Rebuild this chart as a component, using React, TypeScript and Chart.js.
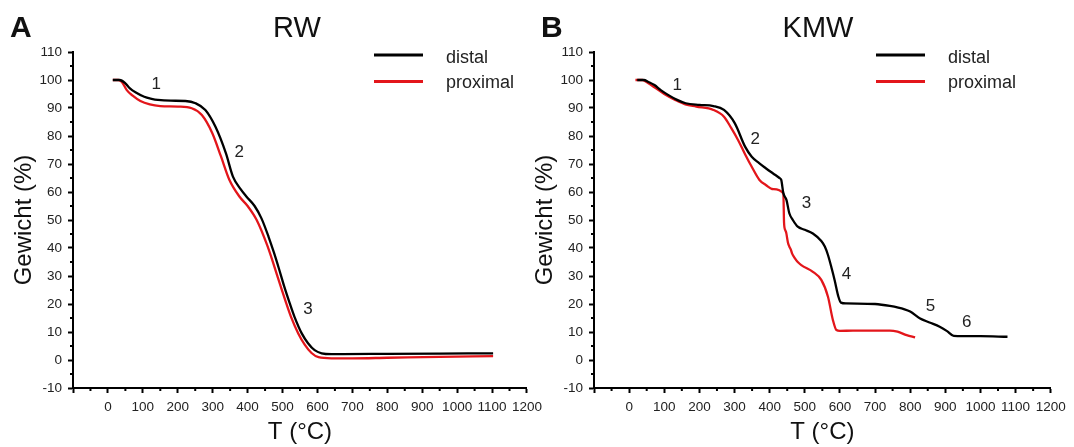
import React, { useEffect, useRef } from 'react';
import { Chart, registerables } from 'chart.js';

Chart.register(...registerables);

const FONT = "'Liberation Sans', Arial, Helvetica, sans-serif";

// Axis ticks
const X_TICKS = [-100, 0, 100, 200, 300, 400, 500, 600, 700, 800, 900, 1000, 1100, 1200];
const X_MINOR_TICKS = [-50, 50, 150, 250, 350, 450, 550, 650, 750, 850, 950, 1050, 1150];
const Y_TICKS = [-10, 0, 10, 20, 30, 40, 50, 60, 70, 80, 90, 100, 110];
const Y_MINOR_TICKS = [-5, 5, 15, 25, 35, 45, 55, 65, 75, 85, 95, 105];
const SERIES_LABELS = ['distal', 'proximal'];

// Panel A: RW
const RW_DISTAL_T = [14, 34, 50, 63, 80, 104, 125, 143, 180, 222, 251, 279, 308, 338, 358, 380, 397, 420, 440, 460, 475, 490, 505, 520, 534, 555, 573, 592, 612, 640, 672, 800, 950, 1103];
const RW_DISTAL_W = [100, 100, 98.8, 97, 95.5, 94, 93.3, 92.9, 92.6, 92.5, 91.7, 89.3, 83.3, 73.8, 65.5, 61, 58.3, 55, 50.5, 44, 38.5, 32.5, 26.2, 20.5, 15.5, 9.5, 6, 3.5, 2.4, 2.1, 2.1, 2.2, 2.3, 2.4];
const RW_PROXIMAL_T = [14, 30, 40, 54, 70, 93, 120, 150, 200, 240, 269, 299, 324, 348, 377, 400, 426, 456, 475, 495, 510, 524, 545, 564, 583, 603, 640, 700, 800, 950, 1103];
const RW_PROXIMAL_W = [100, 100, 99.3, 96.4, 94.5, 92.5, 91.3, 90.7, 90.5, 89.9, 87.5, 81, 72.6, 64.3, 58.3, 55, 50, 41, 34, 26.2, 20.5, 15.5, 9.5, 5.4, 2.5, 1.0, 0.6, 0.6, 0.8, 1.1, 1.4];
const RW_STEP_LABELS = ['1', '2', '3'];
const RW_STEP_T = [138, 376, 573];
const RW_STEP_W = [98.6, 74.3, 18.2];

// Panel B: KMW
const KMW_DISTAL_T = [23, 42, 55, 72, 90, 112, 135, 161, 200, 240, 270, 301, 330, 349, 370, 389, 410, 428, 433, 439, 448, 456, 466, 480, 500, 523, 547, 557, 566, 577, 585, 596, 603, 618, 700, 742, 784, 800, 827, 855, 884, 905, 924, 950, 1000, 1077];
const KMW_DISTAL_W = [100, 100, 99.3, 98.2, 96.4, 94.6, 93, 91.7, 91.1, 90.7, 89.3, 84.5, 76.2, 72.6, 70.3, 68.5, 66.6, 65, 64.3, 59.6, 57.1, 52.4, 50, 47.6, 46.5, 45.2, 42.5, 40.5, 37.5, 32.5, 28.5, 22.5, 20.5, 20.2, 20, 19.3, 18.1, 17.3, 14.9, 13.4, 11.9, 10.3, 8.6, 8.5, 8.5, 8.3];
const KMW_PROXIMAL_T = [18, 38, 55, 72, 100, 131, 160, 191, 240, 270, 290, 310, 330, 349, 371, 389, 410, 439, 441, 444, 447, 452, 456, 460, 464, 471, 480, 490, 523, 547, 566, 580, 590, 600, 637, 742, 764, 790, 814];
const KMW_PROXIMAL_W = [100, 100, 98.8, 97.4, 95, 92.9, 91.3, 90.5, 89.3, 86.9, 83, 78.6, 73.5, 69, 64.3, 62.5, 61, 59.5, 49, 46.5, 45.5, 42, 40.5, 39.5, 38, 36.5, 35, 33.9, 31.5, 28.6, 22.6, 14.3, 10.7, 10.4, 10.5, 10.5, 10.1, 8.9, 8.1];
const KMW_STEP_LABELS = ['1', '2', '3', '4', '5', '6'];
const KMW_STEP_T = [137, 359, 505, 619, 858, 961];
const KMW_STEP_W = [98.2, 78.9, 56.1, 30.7, 19.3, 13.6];

const DISTAL_COLOR = '#000000';
const PROXIMAL_COLOR = '#e3161b';

type PanelProps = {
  letter: string;
  title: string;
  distalT: number[];
  distalW: number[];
  proximalT: number[];
  proximalW: number[];
  stepLabels: string[];
  stepT: number[];
  stepW: number[];
  canvasLeft: number;
  canvasWidth: number;
  padRight: number;
  letterX: number;
  legendDx: number;
};

function toPoints(t: number[], w: number[]) {
  return t.map((x, i) => ({ x, y: w[i] }));
}

function Panel(props: PanelProps) {
  const ref = useRef<HTMLCanvasElement | null>(null);

  useEffect(() => {
    if (!ref.current) return;
    const p = props;
    const decor = {
      id: 'decor',
      afterDraw(chart: any) {
        const ctx = chart.ctx;
        const xs = chart.scales.x;
        const ys = chart.scales.y;
        const area = chart.chartArea;
        ctx.save();
        // minor ticks
        ctx.strokeStyle = '#000';
        ctx.lineWidth = 2;
        ctx.beginPath();
        X_MINOR_TICKS.forEach((v) => {
          const px = xs.getPixelForValue(v);
          ctx.moveTo(px, area.bottom);
          ctx.lineTo(px, area.bottom + 3);
        });
        Y_MINOR_TICKS.forEach((v) => {
          const py = ys.getPixelForValue(v);
          ctx.moveTo(area.left, py);
          ctx.lineTo(area.left - 3, py);
        });
        ctx.stroke();

        // step labels
        ctx.fillStyle = '#222';
        ctx.font = `17px ${FONT}`;
        ctx.textAlign = 'center';
        ctx.textBaseline = 'middle';
        p.stepLabels.forEach((s, i) => {
          ctx.fillText(s, xs.getPixelForValue(p.stepT[i]), ys.getPixelForValue(p.stepW[i]));
        });

        // legend
        const lx0 = area.left + p.legendDx;
        const rows = [
          { label: SERIES_LABELS[0], color: DISTAL_COLOR, ly: 55, by: 62.5 },
          { label: SERIES_LABELS[1], color: PROXIMAL_COLOR, ly: 81.5, by: 88 },
        ];
        rows.forEach((r) => {
          ctx.strokeStyle = r.color;
          ctx.lineWidth = 3;
          ctx.beginPath();
          ctx.moveTo(lx0, r.ly);
          ctx.lineTo(lx0 + 49, r.ly);
          ctx.stroke();
          ctx.fillStyle = '#222';
          ctx.font = `18px ${FONT}`;
          ctx.textAlign = 'left';
          ctx.textBaseline = 'alphabetic';
          ctx.fillText(r.label, lx0 + 72, r.by);
        });

        // title and panel letter
        ctx.fillStyle = '#111';
        ctx.font = `29px ${FONT}`;
        ctx.textAlign = 'center';
        ctx.textBaseline = 'alphabetic';
        ctx.fillText(p.title, area.left + 224, 37);
        ctx.font = `bold 30px ${FONT}`;
        ctx.textAlign = 'left';
        ctx.fillText(p.letter, p.letterX, 37);
        ctx.restore();
      },
    };

    const chart = new Chart(ref.current, {
      type: 'scatter',
      data: {
        datasets: [
          {
            label: SERIES_LABELS[0],
            data: toPoints(p.distalT, p.distalW),
            showLine: true,
            borderColor: DISTAL_COLOR,
            backgroundColor: DISTAL_COLOR,
            borderWidth: 2.3,
            pointRadius: 0,
            cubicInterpolationMode: 'monotone',
            fill: false,
            order: 0,
          },
          {
            label: SERIES_LABELS[1],
            data: toPoints(p.proximalT, p.proximalW),
            showLine: true,
            borderColor: PROXIMAL_COLOR,
            backgroundColor: PROXIMAL_COLOR,
            borderWidth: 2.3,
            pointRadius: 0,
            cubicInterpolationMode: 'monotone',
            fill: false,
            order: 1,
          },
        ],
      },
      options: {
        responsive: false,
        animation: false,
        events: [],
        layout: { padding: { left: 0, top: 52, right: p.padRight, bottom: 0 } },
        plugins: {
          legend: { display: false },
          tooltip: { enabled: false },
          title: { display: false },
        },
        scales: {
          x: {
            type: 'linear',
            min: -100,
            max: 1200,
            afterBuildTicks: (s: any) => {
              s.ticks = X_TICKS.map((v) => ({ value: v }));
            },
            afterFit: (s: any) => {
              s.height = 59;
            },
            grid: {
              display: true,
              drawOnChartArea: false,
              drawTicks: true,
              tickLength: 5,
              tickWidth: 2,
              tickColor: '#000',
            },
            border: { display: true, color: '#000', width: 2 },
            ticks: {
              font: { family: FONT, size: 13.5 },
              color: '#222',
              padding: 6,
              maxRotation: 0,
              minRotation: 0,
              autoSkip: false,
              callback: (v: any) => (v === -100 ? '' : String(v)),
            },
            title: {
              display: true,
              text: 'T (°C)',
              font: { family: FONT, size: 24 },
              color: '#111',
              padding: { top: 0, bottom: 0 },
            },
          },
          y: {
            type: 'linear',
            min: -10,
            max: 110,
            afterBuildTicks: (s: any) => {
              s.ticks = Y_TICKS.map((v) => ({ value: v }));
            },
            afterFit: (s: any) => {
              s.width = 73;
            },
            grid: {
              display: true,
              drawOnChartArea: false,
              drawTicks: true,
              tickLength: 5,
              tickWidth: 2,
              tickColor: '#000',
            },
            border: { display: true, color: '#000', width: 2 },
            ticks: {
              font: { family: FONT, size: 13.5 },
              color: '#222',
              padding: 6,
              autoSkip: false,
              callback: (v: any) => String(v),
            },
            title: {
              display: true,
              text: 'Gewicht (%)',
              font: { family: FONT, size: 24 },
              color: '#111',
              padding: { top: 10, bottom: 0 },
            },
          },
        },
      },
      plugins: [decor],
    } as any);

    return () => {
      chart.destroy();
    };
  }, []);

  return (
    <canvas
      ref={ref}
      width={props.canvasWidth}
      height={447}
      style={{
        position: 'absolute',
        left: props.canvasLeft,
        top: 0,
        width: props.canvasWidth,
        height: 447,
        display: 'block',
      }}
    />
  );
}

export default function App() {
  return (
    <div
      style={{
        position: 'absolute',
        left: 0,
        top: 0,
        width: 1074,
        height: 447,
        background: '#ffffff',
        overflow: 'hidden',
      }}
    >
      <Panel
        letter="A"
        title="RW"
        distalT={RW_DISTAL_T}
        distalW={RW_DISTAL_W}
        proximalT={RW_PROXIMAL_T}
        proximalW={RW_PROXIMAL_W}
        stepLabels={RW_STEP_LABELS}
        stepT={RW_STEP_T}
        stepW={RW_STEP_W}
        canvasLeft={0}
        canvasWidth={548}
        padRight={18.5}
        letterX={10}
        legendDx={301}
      />
      <Panel
        letter="B"
        title="KMW"
        distalT={KMW_DISTAL_T}
        distalW={KMW_DISTAL_W}
        proximalT={KMW_PROXIMAL_T}
        proximalW={KMW_PROXIMAL_W}
        stepLabels={KMW_STEP_LABELS}
        stepT={KMW_STEP_T}
        stepW={KMW_STEP_W}
        canvasLeft={521}
        canvasWidth={553}
        padRight={23.3}
        letterX={20}
        legendDx={282}
      />
    </div>
  );
}
